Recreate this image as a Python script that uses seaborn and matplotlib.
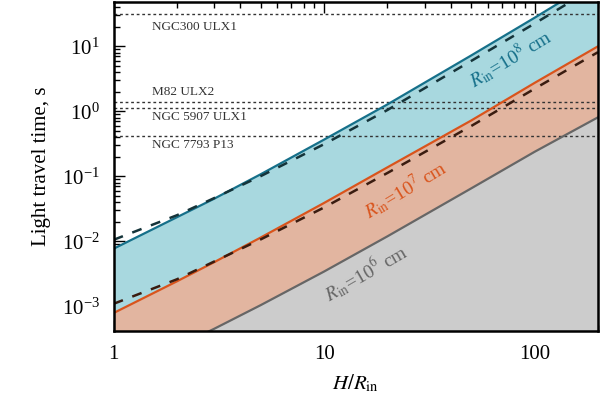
import numpy as np
import pandas as pd
import matplotlib
matplotlib.use("Agg")
import matplotlib.pyplot as plt
import seaborn as sns
from matplotlib.ticker import FixedLocator, FuncFormatter, LogLocator, NullFormatter

# ---- data ----
h_over_r = [1, 2, 3, 5, 10, 20, 50, 100, 200]
t_r8 = [0.00773, 0.0236, 0.0453, 0.108, 0.368, 1.28, 7.24, 27.5, 108.0]
t_r8_approx = [0.0106, 0.0253, 0.0463, 0.101, 0.313, 1.05, 5.96, 22.4, 87.1]
t_r7 = [0.000794, 0.00244, 0.00479, 0.0115, 0.0391, 0.138, 0.724, 2.74, 10.0]
t_r7_approx = [0.0011, 0.00262, 0.0049, 0.01076, 0.0333, 0.113, 0.596, 2.23, 8.13]
t_r6 = [8.5e-5, 0.00024, 0.000453, 0.00105, 0.00345, 0.0120, 0.0655, 0.239, 0.81]

source_names = ["NGC300 ULX1", "M82 ULX2", "NGC 5907 ULX1", "NGC 7793 P13"]
source_periods = [31.6, 1.37, 1.13, 0.42]

sns.set_style("ticks")
plt.rcParams["font.family"] = ["Liberation Serif", "DejaVu Serif"]
plt.rcParams["mathtext.fontset"] = "stix"
plt.rcParams["text.color"] = "black"
plt.rcParams["axes.labelcolor"] = "black"
plt.rcParams["xtick.color"] = "black"
plt.rcParams["ytick.color"] = "black"

df = pd.DataFrame({
    "x": h_over_r * 5,
    "t": t_r8 + t_r8_approx + t_r7 + t_r7_approx + t_r6,
    "curve": (["r8"] * 9 + ["r8a"] * 9 + ["r7"] * 9 + ["r7a"] * 9 + ["r6"] * 9),
})

fig = plt.figure(figsize=(6.12, 4.09), dpi=100)
ax = fig.add_axes([0.1856, 0.1907, 0.7915, 0.8044])
ax.set_xscale("log")
ax.set_yscale("log")

ymin, ymax = 4.2e-4, 48.0
floor = 1e-6

teal_fill, teal_line = "#a8d8df", "#16708a"
orange_fill, orange_line = "#e2b5a0", "#d9541c"
gray_fill, gray_line = "#cccccc", "#666666"

ax.fill_between(h_over_r, t_r8, floor, color=teal_fill, lw=0, zorder=1)
ax.fill_between(h_over_r, t_r7, floor, color=orange_fill, lw=0, zorder=1.1)
ax.fill_between(h_over_r, t_r6, floor, color=gray_fill, lw=0, zorder=1.2)

sns.lineplot(data=df[df.curve == "r8"], x="x", y="t", color=teal_line, lw=1.6, ax=ax, zorder=3)
sns.lineplot(data=df[df.curve == "r7"], x="x", y="t", color=orange_line, lw=1.6, ax=ax, zorder=3)
sns.lineplot(data=df[df.curve == "r6"], x="x", y="t", color=gray_line, lw=1.6, ax=ax, zorder=3)
sns.lineplot(data=df[df.curve == "r8a"], x="x", y="t", color="#15343a", lw=1.8,
             ax=ax, zorder=4, dashes=False, linestyle=(0, (4, 4)))
sns.lineplot(data=df[df.curve == "r7a"], x="x", y="t", color="#3a1c10", lw=1.8,
             ax=ax, zorder=4, dashes=False, linestyle=(0, (4, 4)))

# horizontal source lines
label_y = [19.9, 1.99, 0.81, 0.304]
for name, p, ly in zip(source_names, source_periods, label_y):
    ax.axhline(p, color="#333333", lw=1.0, linestyle=(0, (2, 2)), zorder=2)
    ax.text(1.52, ly, name, fontsize=9.5, color="#333333", ha="left", va="center", zorder=5)

ax.text(76.9, 6.47, r"$R_{\rm in}$=10$^8$ cm", color=teal_line, fontsize=14,
        rotation=31, ha="center", va="center", zorder=5)
ax.text(24.2, 0.0624, r"$R_{\rm in}$=10$^7$ cm", color=orange_line, fontsize=14,
        rotation=31, ha="center", va="center", zorder=5)
ax.text(15.8, 0.0033, r"$R_{\rm in}$=10$^6$ cm", color=gray_line, fontsize=14,
        rotation=30, ha="center", va="center", zorder=5)

ax.set_xlim(1, 200)
ax.set_ylim(ymin, ymax)

ax.xaxis.set_major_locator(FixedLocator([1, 10, 100]))
ax.xaxis.set_major_formatter(FuncFormatter(lambda v, p: f"{int(round(v))}"))
ax.xaxis.set_minor_locator(LogLocator(base=10, subs=np.arange(2, 10)))
ax.xaxis.set_minor_formatter(NullFormatter())
ax.yaxis.set_major_locator(LogLocator(base=10, numticks=20))
ax.yaxis.set_minor_locator(LogLocator(base=10, subs=np.arange(2, 10), numticks=20))
ax.yaxis.set_minor_formatter(NullFormatter())

ax.tick_params(which="both", direction="in", top=True, right=True, color="black")
ax.tick_params(which="major", length=8, width=1.0, labelsize=15, pad=10)
ax.tick_params(which="minor", length=4, width=1.0)
for s in ax.spines.values():
    s.set_linewidth(1.8)
    s.set_color("black")
    s.set_zorder(6)

ax.set_xlabel(r"$H/R_{\rm in}$", fontsize=15, labelpad=6)
ax.set_ylabel("Light travel time, s", fontsize=15, labelpad=8)

fig.savefig("out.png", dpi=100)
